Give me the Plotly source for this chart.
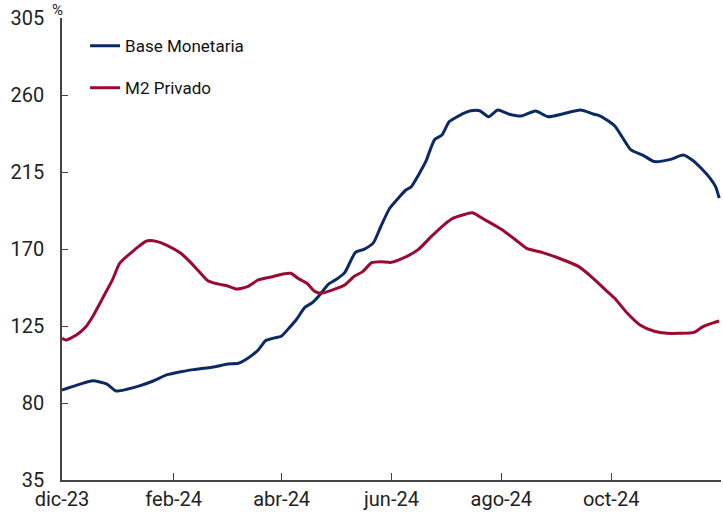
import plotly.graph_objects as go

# Base Monetaria (blue)
base_dates = ["2023-12-01","2023-12-11","2023-12-18","2023-12-26","2023-12-31","2024-01-06","2024-01-13",
              "2024-01-21","2024-01-28","2024-02-05","2024-02-12","2024-02-24","2024-03-02","2024-03-08",
              "2024-03-13","2024-03-19","2024-03-23","2024-03-27","2024-04-01","2024-04-05","2024-04-09",
              "2024-04-14","2024-04-18","2024-04-22","2024-04-27","2024-05-01","2024-05-06","2024-05-12",
              "2024-05-17","2024-05-22","2024-05-26","2024-05-31","2024-06-05","2024-06-09","2024-06-12",
              "2024-06-16","2024-06-20","2024-06-25","2024-06-29","2024-07-03","2024-07-07","2024-07-11",
              "2024-07-15","2024-07-20","2024-07-25","2024-07-30","2024-08-05","2024-08-12","2024-08-20",
              "2024-08-27","2024-09-04","2024-09-14","2024-09-21","2024-09-25","2024-10-03","2024-10-07",
              "2024-10-12","2024-10-19","2024-10-25","2024-11-03","2024-11-10","2024-11-15","2024-11-20",
              "2024-11-25","2024-11-28","2024-11-30"]
base_values = [87.6,91,93,91,87,88,90,
               93,96.4,98.3,99.5,101.2,102.8,103.2,
               106,111,116.4,117.8,119.2,123.7,128.5,
               136,138.6,143,149.5,152,156.2,168,
               169.9,173.7,183,193.8,200,204.5,206.4,
               213.3,221,234,236.6,244.4,247,249.3,
               250.8,250.8,247.3,251.2,248.9,247.7,250.6,
               247.3,248.9,251.2,248.9,247.7,241.9,235.6,
               227.9,224.6,221.1,222.4,224.9,222,217.2,
               211.3,206.4,199.7]

# M2 Privado (red)
m2_dates = ["2023-12-01","2023-12-03","2023-12-09","2023-12-14","2023-12-18","2023-12-24","2023-12-29",
            "2024-01-02","2024-01-08","2024-01-13","2024-01-17","2024-01-23","2024-01-28","2024-02-05",
            "2024-02-10","2024-02-16","2024-02-20","2024-02-26","2024-03-02","2024-03-07","2024-03-13",
            "2024-03-19","2024-03-27","2024-04-01","2024-04-06","2024-04-10","2024-04-15","2024-04-19",
            "2024-04-23","2024-04-29","2024-05-06","2024-05-11","2024-05-16","2024-05-21","2024-05-26",
            "2024-06-01","2024-06-08","2024-06-16","2024-06-23","2024-06-30","2024-07-05","2024-07-12",
            "2024-07-16","2024-07-23","2024-08-01","2024-08-09","2024-08-15","2024-08-24","2024-09-02",
            "2024-09-13","2024-09-21","2024-09-28","2024-10-03","2024-10-10","2024-10-17","2024-10-25",
            "2024-11-01","2024-11-08","2024-11-16","2024-11-21","2024-11-27","2024-11-30"]
m2_values = [117.8,116.8,119.7,124.2,130.4,142.1,151.9,
             161.6,167.5,171.8,174.7,174.3,172.3,167.5,
             162.6,155.8,151.5,149.5,148.4,146.6,148,
             151.9,153.8,155.2,155.8,152.9,150,145.5,
             144.1,146,149,153.8,156.8,162,162.6,
             162.2,164.9,169.8,177.2,184,187.9,190.3,
             191.2,187,181.5,175.3,170.4,167.9,164.6,
             159.7,152.9,146,141.2,132.4,125.6,121.9,
             120.7,120.7,121.3,124.6,127,127.9]

x_tickvals = ["2023-12-01","2024-02-01","2024-04-01","2024-06-01","2024-08-01","2024-10-01","2024-12-01"]
x_ticktext = ["dic-23","feb-24","abr-24","jun-24","ago-24","oct-24",""]
y_tickvals = [35, 80, 125, 170, 215, 260, 305]

BLUE = "#0c2a62"
RED = "#9b0a30"

fig = go.Figure()
fig.add_trace(go.Scatter(x=base_dates, y=base_values, mode="lines", name="Base Monetaria",
                         line=dict(color=BLUE, width=3, shape="spline", smoothing=0.6),
                         legendgroup="a"))
fig.add_trace(go.Scatter(x=m2_dates, y=m2_values, mode="lines", name="M2 Privado",
                         line=dict(color=RED, width=3, shape="spline", smoothing=0.6),
                         legendgroup="b"))

fig.update_layout(
    width=723, height=515,
    margin=dict(l=62, r=2, t=18, b=35, autoexpand=False),
    paper_bgcolor="white", plot_bgcolor="white",
    font=dict(family="Roboto", size=20, color="#222"),
    showlegend=True,
    legend=dict(x=0.035, y=0.978, xanchor="left", yanchor="top",
                font=dict(size=17, color="#111"), tracegroupgap=17,
                bgcolor="rgba(0,0,0,0)", traceorder="grouped"),
    xaxis=dict(type="date", range=["2023-12-01","2024-12-01"],
               tickvals=x_tickvals, ticktext=x_ticktext, automargin=False,
               showgrid=False, zeroline=False,
               showline=True, linecolor="#444", linewidth=1.5,
               ticks="inside", ticklen=7, tickcolor="#444", tickwidth=1),
    yaxis=dict(range=[35, 305], tickvals=y_tickvals, automargin=False,
               showgrid=False, zeroline=False,
               showline=True, linecolor="#444", linewidth=1.5,
               ticks="inside", ticklen=6, tickcolor="#444", tickwidth=1,
               ticklabelstandoff=12),
    annotations=[dict(text="%", xref="paper", yref="paper", x=0, y=1, xanchor="right",
                      yanchor="bottom", showarrow=False, xshift=3, yshift=-3,
                      font=dict(size=15, color="#222"))],
)

fig.write_html("out.html", config={"displayModeBar": False},
               post_script="document.body.style.margin='0';document.body.style.overflow='hidden';")
